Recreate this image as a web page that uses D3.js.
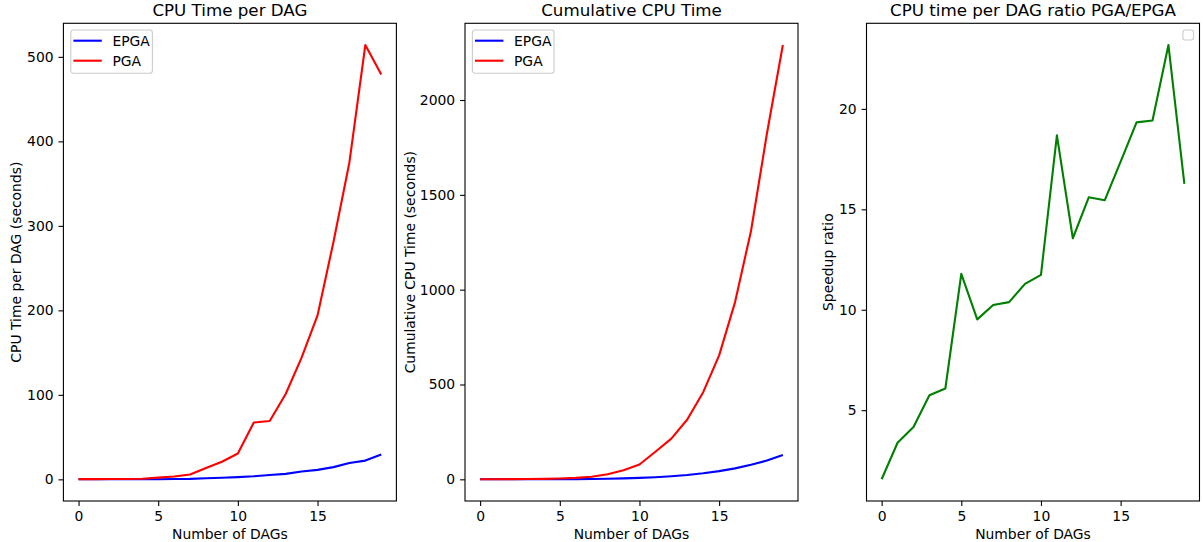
<!DOCTYPE html>
<html>
<head>
    <meta charset="utf-8">
    <title>CPU Time per DAG</title>
    <script src="https://cdnjs.cloudflare.com/ajax/libs/d3/7.8.5/d3.min.js"></script>
    <style>
        body { margin: 0; background: #fff; }
        text { font-family: "DejaVu Sans", sans-serif; fill: #000; }
    </style>
</head>
<body>
    <div id="chart"></div>
    <script>
        // values
        const dags = d3.range(0, 20);
        const epgaPerDag = [0.19, 0.09, 0.1, 0.09, 0.13, 0.17, 0.35, 0.56, 1.3, 1.84,
                            2.6, 3.6, 5.1, 6.5, 9.3, 11.2, 14.5, 19.3, 22.2, 29.4];
        const pgaPerDag = [0.3, 0.3, 0.4, 0.5, 0.8, 2, 3.3, 5.7, 13.5, 20.8,
                           30.6, 67.3, 69, 101, 144, 194, 281, 375, 514, 479];
        const epgaCumulative = [0.19, 0.28, 0.38, 0.47, 0.6, 0.77, 1.12, 1.68, 2.98, 4.82,
                                7.42, 11.02, 16.12, 22.62, 31.92, 43.12, 57.62, 76.92, 99.12, 128.5];
        const pgaCumulative = [0.3, 0.6, 1.0, 1.5, 2.3, 4.3, 7.6, 13.3, 26.8, 47.6,
                               78.2, 145.5, 214.5, 315.5, 459.5, 653.5, 934.5, 1309.5, 1823.5, 2290];
        const speedupRatio = [1.56, 3.38, 4.16, 5.74, 6.08, 11.79, 9.52, 10.24, 10.38, 11.29,
                              11.74, 18.68, 13.56, 15.6, 15.45, 17.37, 19.33, 19.42, 23.18, 16.27];

        const xTicks = [0, 5, 10, 15];
        const perDagTicks = [0, 100, 200, 300, 400, 500];
        const cumulativeTicks = [0, 500, 1000, 1500, 2000];
        const ratioTicks = [5, 10, 15, 20];

        const width = 1203, height = 542;
        const fs = 13.9;          // 10pt at 100 dpi
        const tick = 4.9;
        const plotTop = 23.3, plotBottom = 501, panelW = 333;

        const svg = d3.select("#chart").append("svg")
            .attr("width", width)
            .attr("height", height);

        function padded(values) {
            const [lo, hi] = d3.extent(values);
            const m = (hi - lo) * 0.05;
            return [lo - m, hi + m];
        }

        function drawPanel(opt) {
            const left = opt.left, right = left + panelW;
            const x = d3.scaleLinear().domain([-0.95, 19.95]).range([left, right]);
            const allY = [].concat(...opt.series.map(s => s.values));
            const y = d3.scaleLinear().domain(padded(allY)).range([plotBottom, plotTop]);

            const g = svg.append("g");

            // lines
            const line = d3.line().x((d, i) => x(dags[i])).y(d => y(d));
            opt.series.forEach(s => {
                g.append("path")
                    .datum(s.values)
                    .attr("fill", "none")
                    .attr("stroke", s.color)
                    .attr("stroke-width", 2.1)
                    .attr("stroke-linejoin", "round")
                    .attr("d", line);
            });

            // axes
            const xAxis = g.append("g")
                .attr("transform", `translate(0,${plotBottom})`)
                .call(d3.axisBottom(x).tickValues(xTicks).tickFormat(d3.format("d"))
                    .tickSize(tick).tickPadding(4.9).tickSizeOuter(0));
            const yAxis = g.append("g")
                .attr("transform", `translate(${left},0)`)
                .call(d3.axisLeft(y).tickValues(opt.yTicks).tickFormat(d3.format("d"))
                    .tickSize(tick).tickPadding(4.9).tickSizeOuter(0));
            [xAxis, yAxis].forEach(a => {
                a.select(".domain").remove();
                a.selectAll("line").attr("stroke", "#000").attr("stroke-width", 1.1);
                a.selectAll("text").attr("font-size", fs).attr("font-family", "DejaVu Sans");
            });

            // frame
            g.append("rect")
                .attr("x", left).attr("y", plotTop)
                .attr("width", panelW).attr("height", plotBottom - plotTop)
                .attr("fill", "none").attr("stroke", "#000").attr("stroke-width", 1.1);

            // title and labels
            g.append("text")
                .attr("x", (left + right) / 2).attr("y", 16)
                .attr("text-anchor", "middle").attr("font-size", 16.7)
                .text(opt.title);
            g.append("text")
                .attr("x", (left + right) / 2).attr("y", 539)
                .attr("text-anchor", "middle").attr("font-size", fs)
                .text("Number of DAGs");
            g.append("text")
                .attr("transform", `translate(${opt.ylabelX},${(plotTop + plotBottom) / 2}) rotate(-90)`)
                .attr("text-anchor", "middle").attr("font-size", fs)
                .text(opt.ylabel);

            // legend
            if (opt.legend) {
                const lg = g.append("g").attr("transform", `translate(${left + 7.4},${plotTop + 6.7})`);
                lg.append("rect")
                    .attr("width", 81.6).attr("height", 43.3)
                    .attr("rx", 2.8)
                    .attr("fill", "#fff").attr("fill-opacity", 0.8)
                    .attr("stroke", "#ccc").attr("stroke-width", 1.1);
                opt.series.forEach((s, i) => {
                    const cy = 10.7 + i * 20;
                    lg.append("line")
                        .attr("x1", 2.6).attr("x2", 31)
                        .attr("y1", cy).attr("y2", cy)
                        .attr("stroke", s.color).attr("stroke-width", 2.1);
                    lg.append("text")
                        .attr("x", 41.6).attr("y", cy + 5)
                        .attr("font-size", fs)
                        .text(s.name);
                });
            } else {
                // matplotlib draws an empty legend box when there are no labels
                g.append("rect")
                    .attr("x", right - 16.6).attr("y", plotTop + 6.7)
                    .attr("width", 10.6).attr("height", 10)
                    .attr("rx", 2.2)
                    .attr("fill", "#fff").attr("fill-opacity", 0.8)
                    .attr("stroke", "#ccc").attr("stroke-width", 1.1);
            }
        }

        drawPanel({
            left: 63.4,
            title: "CPU Time per DAG",
            ylabel: "CPU Time per DAG (seconds)",
            ylabelX: 21,
            yTicks: perDagTicks,
            legend: true,
            series: [
                { name: "EPGA", color: "blue", values: epgaPerDag },
                { name: "PGA", color: "red", values: pgaPerDag }
            ]
        });

        drawPanel({
            left: 465,
            title: "Cumulative CPU Time",
            ylabel: "Cumulative CPU Time (seconds)",
            ylabelX: 415,
            yTicks: cumulativeTicks,
            legend: true,
            series: [
                { name: "EPGA", color: "blue", values: epgaCumulative },
                { name: "PGA", color: "red", values: pgaCumulative }
            ]
        });

        drawPanel({
            left: 866.5,
            title: "CPU time per DAG ratio PGA/EPGA",
            ylabel: "Speedup ratio",
            ylabelX: 833,
            yTicks: ratioTicks,
            legend: false,
            series: [
                { name: "ratio", color: "green", values: speedupRatio }
            ]
        });
    </script>
</body>
</html>
